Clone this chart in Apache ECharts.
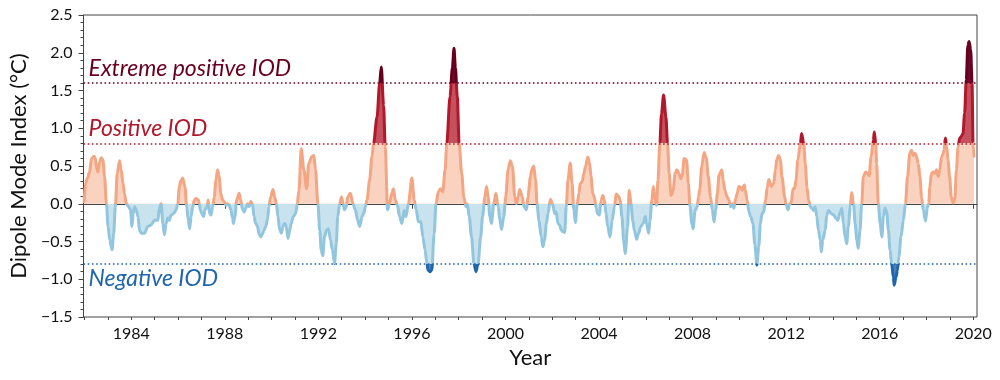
<!DOCTYPE html>
<html>
<head>
<meta charset="utf-8">
<script src="https://cdn.jsdelivr.net/npm/echarts@6/dist/echarts.min.js"></script>
<style>
html,body{margin:0;padding:0;background:#fff;}
#chart{width:1000px;height:380px;}
</style>
</head>
<body>
<div id="chart"></div>
<script>
// Dipole Mode Index (decimal year, value in °C)
const dmiYear = [
1981.99,1982.04,1982.13,1982.22,1982.30,1982.41,1982.47,1982.51,1982.58,1982.65,1982.72,1982.79,1982.86,1982.94,
1983.01,1983.08,1983.18,1983.25,1983.32,1983.40,1983.50,1983.57,1983.65,1983.71,1983.79,1983.89,1983.97,
1984.03,1984.09,1984.14,1984.21,1984.29,1984.35,1984.43,1984.57,1984.71,1984.85,1984.99,
1985.14,1985.21,1985.28,1985.35,1985.42,1985.49,1985.56,1985.63,1985.70,1985.82,1985.92,1985.99,
1986.06,1986.13,1986.20,1986.30,1986.37,1986.44,1986.50,1986.56,1986.63,1986.70,1986.77,1986.87,1986.91,1986.95,
1987.01,1987.10,1987.15,1987.24,1987.29,1987.35,1987.41,1987.48,1987.55,1987.62,1987.69,1987.76,1987.83,1987.91,1987.97,
1988.05,1988.12,1988.19,1988.26,1988.33,1988.37,1988.43,1988.51,1988.61,1988.68,1988.76,1988.83,1988.90,1988.97,
1989.04,1989.11,1989.18,1989.25,1989.32,1989.40,1989.46,1989.54,1989.61,1989.68,1989.75,1989.82,1989.89,1989.96,
1990.06,1990.13,1990.21,1990.27,1990.35,1990.42,1990.49,1990.56,1990.63,1990.70,1990.78,1990.84,1990.93,
1991.03,1991.10,1991.17,1991.27,1991.38,1991.50,1991.59,1991.71,1991.81,1991.88,1991.98,
1992.06,1992.12,1992.19,1992.26,1992.35,1992.43,1992.52,1992.60,1992.69,1992.77,1992.83,1992.91,1992.99,
1993.06,1993.11,1993.20,1993.25,1993.37,1993.48,1993.58,1993.68,1993.77,1993.87,1993.94,
1994.01,1994.08,1994.19,1994.29,1994.36,1994.51,1994.62,1994.69,1994.79,1994.86,1994.96,
1995.04,1995.15,1995.21,1995.29,1995.38,1995.47,1995.57,1995.67,1995.75,1995.85,
1996.00,1996.10,1996.18,1996.28,1996.38,1996.47,1996.56,1996.64,1996.69,1996.78,1996.85,1996.95,
1997.03,1997.13,1997.23,1997.32,1997.42,1997.49,1997.63,1997.73,1997.80,1997.86,1997.94,
1998.02,1998.13,1998.22,1998.31,1998.37,1998.45,1998.55,1998.65,1998.74,1998.83,1998.94,
1999.02,1999.12,1999.19,1999.26,1999.33,1999.40,1999.50,1999.59,1999.69,1999.76,1999.83,1999.93,
2000.01,2000.11,2000.21,2000.30,2000.40,2000.47,2000.54,2000.61,2000.72,2000.79,2000.90,2000.96,
2001.07,2001.12,2001.21,2001.29,2001.35,2001.43,2001.53,2001.60,2001.67,2001.75,2001.82,2001.92,
2002.03,2002.10,2002.17,2002.24,2002.31,2002.39,2002.45,2002.53,2002.60,2002.67,2002.77,2002.85,2002.92,2002.99,
2003.07,2003.14,2003.20,2003.28,2003.35,2003.42,2003.52,2003.59,2003.66,2003.73,2003.80,2003.88,2003.94,
2004.02,2004.09,2004.16,2004.23,2004.30,2004.37,2004.47,2004.56,2004.66,2004.73,2004.84,2004.90,2004.98,
2005.05,2005.12,2005.22,2005.29,2005.37,2005.44,2005.51,2005.61,2005.69,2005.79,2005.89,2005.98,
2006.03,2006.12,2006.18,2006.26,2006.32,2006.40,2006.46,2006.52,2006.60,2006.67,2006.76,2006.86,2006.93,
2007.00,2007.08,2007.17,2007.25,2007.33,2007.42,2007.50,2007.56,2007.64,2007.74,2007.82,2007.89,2007.97,
2008.02,2008.11,2008.20,2008.25,2008.31,2008.39,2008.49,2008.59,2008.67,2008.77,2008.84,2008.92,2008.99,
2009.06,2009.13,2009.25,2009.31,2009.38,2009.48,2009.55,2009.63,2009.70,2009.77,2009.84,2009.91,2009.98,
2010.06,2010.12,2010.21,2010.26,2010.33,2010.41,2010.48,2010.58,2010.66,2010.75,2010.83,2010.90,2010.97,
2011.04,2011.12,2011.19,2011.26,2011.37,2011.47,2011.54,2011.61,2011.68,2011.76,2011.82,2011.94,2011.99,
2012.08,2012.15,2012.22,2012.29,2012.36,2012.42,2012.50,2012.61,2012.66,2012.75,2012.82,2012.89,2012.96,
2013.03,2013.10,2013.17,2013.24,2013.31,2013.38,2013.46,2013.50,2013.57,2013.67,2013.74,2013.81,2013.93,
2014.03,2014.12,2014.21,2014.31,2014.38,2014.45,2014.52,2014.59,2014.66,2014.74,2014.80,2014.88,2014.95,
2015.02,2015.08,2015.16,2015.23,2015.30,2015.40,2015.48,2015.55,2015.63,2015.73,2015.77,2015.83,2015.87,2015.94,
2016.02,2016.09,2016.16,2016.23,2016.30,2016.37,2016.44,2016.51,2016.58,2016.62,2016.70,2016.76,2016.82,2016.91,
2017.01,2017.10,2017.19,2017.29,2017.36,2017.43,2017.51,2017.58,2017.65,2017.72,2017.79,2017.86,2017.96,
2018.04,2018.10,2018.14,2018.21,2018.28,2018.36,2018.43,2018.50,2018.57,2018.64,2018.71,2018.75,2018.81,2018.87,2018.92,2018.99,
2019.06,2019.14,2019.21,2019.28,2019.35,2019.42,2019.49,2019.56,2019.63,2019.70,2019.77,2019.82,2019.89,2019.95,2019.99,2020.03
];
const dmiValue = [
0.03,0.27,0.34,0.42,0.60,0.63,0.60,0.49,0.42,0.56,0.61,0.58,0.36,0.00,
-0.30,-0.48,-0.61,-0.39,-0.04,0.40,0.57,0.45,0.27,0.14,0.00,-0.04,-0.08,
-0.30,-0.13,-0.04,-0.08,-0.17,-0.35,-0.39,-0.39,-0.30,-0.28,-0.22,
-0.22,-0.04,0.00,-0.26,-0.41,-0.26,-0.19,-0.22,-0.15,-0.13,-0.08,0.00,
0.23,0.31,0.34,0.22,-0.04,-0.22,-0.33,-0.17,-0.04,0.05,0.07,0.05,0.00,-0.08,
-0.13,-0.17,-0.08,-0.04,0.05,-0.13,-0.15,-0.04,0.09,0.31,0.45,0.36,0.13,0.05,0.03,
-0.02,0.00,-0.02,-0.08,-0.19,-0.26,-0.17,0.05,0.14,0.05,-0.08,-0.11,-0.06,0.00,
-0.04,0.03,0.00,-0.17,-0.26,-0.30,-0.40,-0.44,-0.40,-0.35,-0.30,-0.22,-0.04,0.09,
0.19,0.09,0.00,-0.17,-0.35,-0.39,-0.30,-0.26,-0.30,-0.46,-0.35,-0.26,-0.17,
-0.13,0.00,0.18,0.73,0.45,0.20,0.53,0.62,0.64,0.45,0.00,
-0.35,-0.61,-0.69,-0.44,-0.35,-0.33,-0.48,-0.61,-0.79,-0.52,-0.17,0.00,0.09,
0.00,-0.08,-0.04,0.09,0.14,0.00,-0.08,-0.22,-0.30,-0.17,-0.13,
-0.04,0.05,0.31,0.62,0.80,1.15,1.60,1.81,1.30,0.75,-0.08,
0.00,0.15,0.20,0.05,-0.02,-0.17,-0.26,-0.09,-0.17,0.00,
0.34,0.05,-0.08,-0.24,-0.24,-0.44,-0.61,-0.79,-0.88,-0.90,-0.88,-0.40,
0.00,0.16,0.20,0.16,0.45,0.80,1.42,1.80,2.06,1.80,1.42,
0.80,0.40,0.09,-0.04,0.00,-0.17,-0.44,-0.79,-0.90,-0.79,-0.44,
-0.17,0.09,0.23,0.09,-0.17,-0.26,0.00,0.14,-0.04,-0.22,-0.34,-0.17,
0.09,0.45,0.57,0.49,0.09,0.00,0.09,0.19,0.09,-0.04,-0.08,0.09,
0.36,0.45,0.50,0.31,0.00,-0.22,-0.44,-0.57,-0.48,-0.26,-0.13,0.06,
-0.02,-0.13,-0.11,-0.26,-0.28,-0.35,-0.37,-0.38,-0.04,0.31,0.54,0.27,-0.08,-0.25,
0.00,0.14,0.27,0.29,0.40,0.49,0.62,0.55,0.36,0.14,0.09,-0.06,-0.13,
-0.15,0.05,0.11,0.05,-0.13,-0.30,-0.44,-0.22,-0.04,0.13,0.10,0.05,-0.17,
-0.48,-0.66,-0.31,0.18,0.00,-0.22,-0.35,-0.47,-0.39,-0.30,-0.26,-0.17,
-0.26,-0.39,-0.22,0.05,0.23,0.05,-0.02,0.31,0.80,1.19,1.44,1.15,0.80,
0.40,0.11,0.18,0.40,0.45,0.40,0.33,0.38,0.60,0.58,0.27,-0.04,-0.26,
-0.33,-0.09,-0.04,0.09,0.20,0.49,0.68,0.60,0.36,0.09,-0.08,-0.24,-0.08,
0.14,0.38,0.45,0.31,0.18,0.09,0.05,-0.04,0.00,-0.06,0.07,0.14,0.23,
0.22,0.18,0.25,0.18,0.05,-0.11,-0.17,-0.26,-0.53,-0.81,-0.57,-0.26,-0.13,
-0.11,0.05,0.22,0.32,0.23,0.27,0.45,0.60,0.64,0.57,0.36,0.09,0.00,
-0.08,0.00,0.01,0.20,0.20,0.31,0.58,0.80,0.93,0.80,0.53,0.22,0.05,
-0.04,-0.06,-0.09,-0.04,-0.17,-0.35,-0.48,-0.64,-0.48,-0.35,-0.15,-0.09,-0.13,
-0.15,-0.19,-0.22,-0.11,-0.06,-0.26,-0.44,-0.53,-0.30,-0.04,0.15,0.00,-0.26,
-0.48,-0.59,-0.35,0.00,0.36,0.42,0.40,0.37,0.62,0.84,0.95,0.80,0.53,0.00,
-0.26,-0.44,-0.17,-0.06,-0.11,-0.35,-0.61,-0.79,-0.97,-1.08,-0.97,-0.88,-0.70,-0.44,
-0.22,0.00,0.36,0.67,0.71,0.64,0.67,0.62,0.53,0.36,0.09,-0.08,-0.23,
-0.04,0.00,0.22,0.40,0.42,0.40,0.45,0.36,0.45,0.62,0.66,0.71,0.87,0.75,0.58,0.36,
0.09,0.01,0.05,0.45,0.75,0.87,0.89,0.93,1.20,1.64,2.10,2.15,2.04,1.59,0.80,0.63
];
const thresholdValues = [1.6, 0.8, -0.8];
const thresholdNames = ['Extreme positive IOD', 'Positive IOD', 'Negative IOD'];
const thresholdColors = ['#67001f', '#b2182b', '#2166ac'];
const majorYears = [1984, 1988, 1992, 1996, 2000, 2004, 2008, 2012, 2016, 2020];
const minorYears = [];
for (let y = 1982; y <= 2020; y++) minorYears.push(y);

const bandLimits = [1.6, 0.8, 0, -0.8];
const lineColors = ['#67001f', '#b2182b', '#f4a582', '#92c5de', '#2166ac'];
const areaColors = ['#700b2e', '#c5505e', '#f9d2c0', '#c8e2ee', '#4a80bb'];

const data = dmiYear.map((t, i) => [t, dmiValue[i]]);
const FONT = 'Lato, "Noto Sans", sans-serif';
const X_MIN = 1981.96, X_MAX = 2020.16;

function pieces(colors) {
  return [
    {gt: bandLimits[0], color: colors[0]},
    {gt: bandLimits[1], lte: bandLimits[0], color: colors[1]},
    {gt: bandLimits[2], lte: bandLimits[1], color: colors[2]},
    {gt: bandLimits[3], lte: bandLimits[2], color: colors[3]},
    {lte: bandLimits[3], color: colors[4]}
  ];
}

const chart = echarts.init(document.getElementById('chart'), null, {renderer: 'canvas'});
chart.setOption({
  animation: false,
  backgroundColor: '#ffffff',
  grid: {left: 80, right: 23, top: 15, bottom: 63, show: true, borderColor: '#444', borderWidth: 1, backgroundColor: 'transparent'},
  xAxis: [
    {
      type: 'value', min: X_MIN, max: X_MAX,
      name: 'Year', nameLocation: 'middle', nameGap: 27,
      nameTextStyle: {fontFamily: FONT, fontSize: 22, color: '#111'},
      axisLine: {show: true, lineStyle: {color: '#444', width: 1}},
      axisTick: {show: true, customValues: majorYears, length: 5, lineStyle: {color: '#444'}},
      axisLabel: {show: true, customValues: majorYears, margin: 9, fontFamily: FONT, fontSize: 16, color: '#111', formatter: v => String(Math.round(v))},
      splitLine: {show: false}
    },
    {
      type: 'value', min: X_MIN, max: X_MAX, position: 'bottom',
      axisLine: {show: false},
      axisTick: {show: true, customValues: minorYears, length: 3, lineStyle: {color: '#444'}},
      axisLabel: {show: false},
      splitLine: {show: false}
    }
  ],
  yAxis: {
    type: 'value', min: -1.5, max: 2.5, interval: 0.5,
    name: 'Dipole Mode Index (°C)', nameLocation: 'middle', nameGap: 49,
    nameTextStyle: {fontFamily: FONT, fontSize: 22, color: '#111'},
    axisLine: {show: true, lineStyle: {color: '#444', width: 1}},
    axisTick: {show: true, length: 5, lineStyle: {color: '#444'}},
    minorTick: {show: true, splitNumber: 5, length: 3, lineStyle: {color: '#444'}},
    axisLabel: {margin: 11, fontFamily: FONT, fontSize: 16, color: '#111', formatter: v => v.toFixed(1).replace('-', '\u2212')},
    splitLine: {show: false}
  },
  visualMap: [
    {type: 'piecewise', show: false, dimension: 1, seriesIndex: 0, pieces: pieces(areaColors)},
    {type: 'piecewise', show: false, dimension: 1, seriesIndex: 1, pieces: pieces(lineColors)}
  ],
  series: [
    {
      type: 'line', name: 'area', data: data, showSymbol: false, silent: true,
      smooth: 0.3, smoothMonotone: 'x',
      lineStyle: {width: 0},
      areaStyle: {opacity: 1, origin: 0},
      z: 1
    },
    {
      type: 'line', name: 'DMI', data: data, showSymbol: false, silent: true,
      smooth: 0.3, smoothMonotone: 'x',
      lineStyle: {width: 3, join: 'round', cap: 'round'},
      z: 3,
      markLine: {
        silent: true, symbol: ['none', 'none'], animation: false,
        data: thresholdValues.map((v, i) => ({
          yAxis: v,
          lineStyle: {color: thresholdColors[i], type: [1.6, 2.6], width: 1.6},
          label: {
            show: true, formatter: thresholdNames[i],
            position: i < 2 ? 'insideStartTop' : 'insideStartBottom',
            distance: [5, 3],
            fontFamily: FONT, fontStyle: 'italic', fontSize: 23, color: thresholdColors[i]
          }
        }))
      }
    }
  ]
});
</script>
</body>
</html>
